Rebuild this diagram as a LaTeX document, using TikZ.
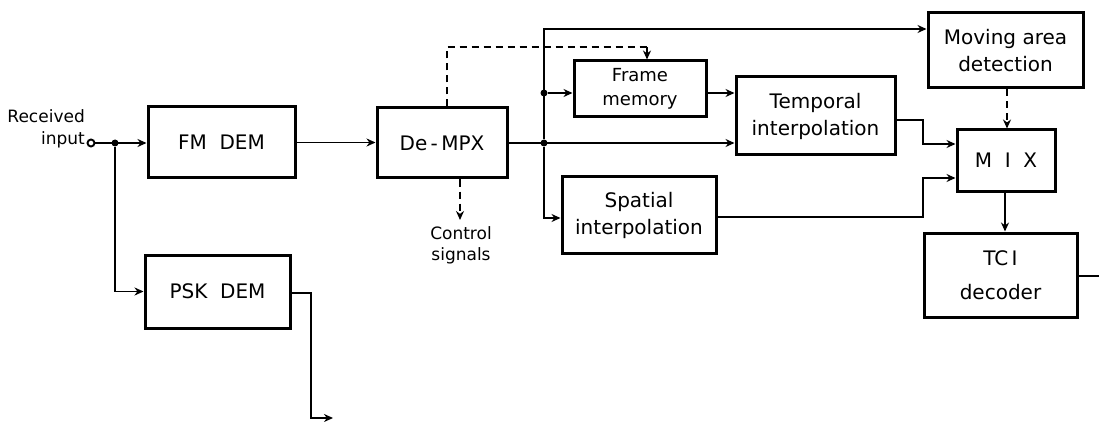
\documentclass[tikz,border=0pt]{standalone}
\usepackage{fontspec}
\setmainfont{DejaVu Sans}
\usetikzlibrary{arrows.meta,calc}
\begin{document}
\begin{tikzpicture}[x=1pt,y=-1pt,
  blk/.style={draw,line width=3pt,rectangle,inner sep=0pt,align=center,font=\fontsize{20}{27}\selectfont},
  conn/.style={line width=1.9pt},
  arr/.style={conn,-{Stealth[length=9pt,width=8pt]}},
  dsh/.style={conn,dash pattern=on 7pt off 5pt},
  dot/.style={circle,fill,inner sep=0pt,minimum size=7pt},
  lbl/.style={font=\fontsize{18}{22}\selectfont,inner sep=0pt}
]
\useasboundingbox (0,0) rectangle (1099,422);
% blocks
\node[blk,minimum width=147pt,minimum height=71pt] (FM) at (221.5,142.5) {FM\ \ DEM};
\node[blk,minimum width=145pt,minimum height=73pt] (PSK) at (217.5,291.5) {PSK\ \ DEM};
\node[blk,minimum width=130pt,minimum height=70pt] (DMX) at (442,143) {De\,-\,MPX};
\node[blk,minimum width=132pt,minimum height=56pt,font=\fontsize{18}{24}\selectfont] (FMEM) at (640,89) {Frame\\memory};
\node[blk,minimum width=159pt,minimum height=78pt] (TMP) at (815.5,116) {Temporal\\interpolation};
\node[blk,minimum width=154pt,minimum height=76pt] (SPT) at (639,215) {Spatial\\interpolation};
\node[blk,minimum width=155pt,minimum height=75pt] (MOV) at (1005.5,50.5) {Moving\ area\\detection};
\node[blk,minimum width=98pt,minimum height=61pt] (MIX) at (1006,160.5) {M\ \ I\ \ X};
\node[blk,minimum width=153pt,minimum height=84pt,font=\fontsize{20}{34}\selectfont] (TCI) at (1000.5,275) {TC\,I\\decoder};
% input
\node[lbl,align=right,anchor=east,font=\fontsize{17}{22}\selectfont] (rin) at (85,129) {Received\\input};
\node[circle,draw,line width=1.9pt,inner sep=0pt,minimum size=7pt] (IN) at (91,143) {};
\node[dot] (J1) at (115,143) {};
\draw[arr] (IN) -- (IN -| FM.west);
\draw[arr] (J1) |- (PSK.west);
% PSK output
\coordinate (PO) at (333,418);
\draw[arr] (PSK.east |- 0,293) -- (311,293) |- (PO);
% FM to DeMPX
\draw[arr] (FM.east) -- (FM.east -| DMX.west);
% DeMPX outputs
\node[dot] (J2) at (544,143) {};
\node[dot] (J3) at (544,93) {};
\coordinate (TC) at (544,29);
\draw[arr] (DMX.east) -- (DMX.east -| TMP.west);
\draw[arr] (J2) -- (TC) -- (TC -| MOV.west);
\draw[arr] (J2) |- (SPT.west |- 0,218);
\draw[arr] (J3) -- (J3 -| FMEM.west);
\draw[arr] (FMEM.east |- 0,93) -- (TMP.west |- 0,93);
% dashed control
\coordinate (D1) at (447,47);
\coordinate (D2) at (647,47);
\draw[dsh] (DMX.north -| D1) -- (D1) -- (D2);
\draw[dsh,-{Stealth[length=9pt,width=8pt]}] (D2) -- (FMEM.north -| D2);
\coordinate (CS) at (460,220);
\draw[dsh,-{Stealth[length=9pt,width=8pt]}] (DMX.south -| CS) -- (CS);
\node[lbl,align=center,anchor=north,font=\fontsize{17}{21}\selectfont] (ctl) at (461,226) {Control\\signals};
% to MIX
\draw[arr] (TMP.east |- 0,120) -- (923,120) |- (MIX.west |- 0,144);
\draw[arr] (SPT.east |- 0,217) -- (923,217) |- (MIX.west |- 0,178);
\draw[dsh,-{Stealth[length=9pt,width=8pt]}] (MOV.south -| 1007,0) -- (MIX.north -| 1007,0);
\draw[arr] (MIX.south -| 1005,0) -- (TCI.north -| 1005,0);
\coordinate (TO) at (1099,276);
\draw[conn] (TCI.east |- TO) -- (TO);
\end{tikzpicture}
\end{document}
